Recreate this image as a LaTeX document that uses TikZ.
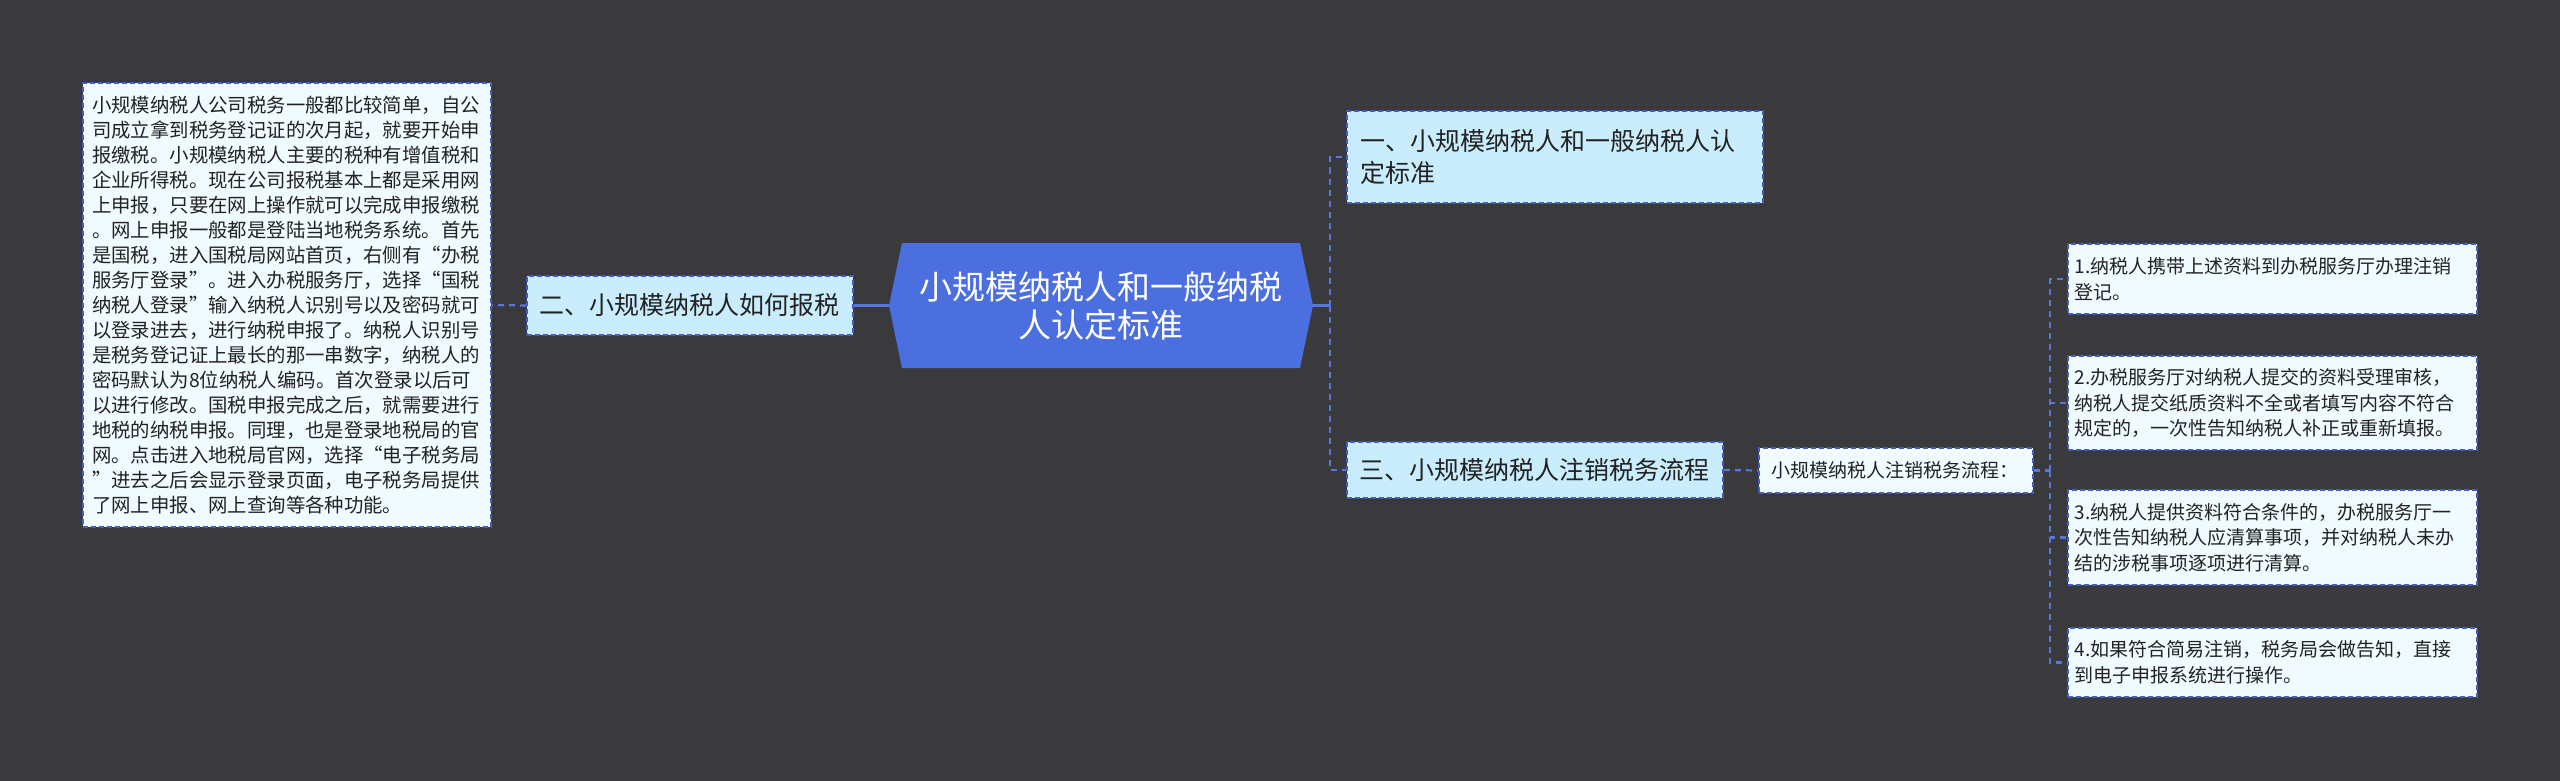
\documentclass[tikz,border=0pt]{standalone}
\usepackage{fontspec}
\setmainfont{Noto Sans CJK SC}
\definecolor{bgc}{RGB}{58,57,60}
\definecolor{mainblue}{RGB}{76,111,224}
\definecolor{linec}{RGB}{88,118,222}
\definecolor{borderc}{RGB}{66,92,196}
\definecolor{lvone}{RGB}{201,237,252}
\definecolor{leaf}{RGB}{240,251,255}
\definecolor{txt}{RGB}{34,34,34}
\tikzset{
  boxbase/.style={draw=borderc, line width=1.6pt, dash pattern=on 5pt off 3pt, text=txt, align=left, inner ysep=0pt},
  lvbox/.style={boxbase, fill=lvone, font=\fontsize{25}{32}\selectfont},
  leafbox/.style={boxbase, fill=leaf, font=\fontsize{19}{25.5}\selectfont},
  conn/.style={draw=linec, line width=2.2pt, dash pattern=on 6pt off 5pt},
  solidconn/.style={draw=linec, line width=3pt},
}
\begin{document}
\begin{tikzpicture}[x=1pt,y=-1pt]
\fill[bgc] (0,0) rectangle (2560,781);
\useasboundingbox (0,0) rectangle (2560,781);
% central hexagon
\fill[mainblue] (902,243) -- (1300,243) -- (1313,305.5) -- (1300,368) -- (902,368) -- (889,305.5) -- cycle;
\node[minimum width=424pt, minimum height=125pt, inner sep=0pt, text=white, align=center,
      font=\fontsize{33}{38}\selectfont] (C) at (1101,305.5) {小规模纳税人和一般纳税\\人认定标准};
% left text
\node[leafbox, minimum width=408pt, minimum height=444pt, text width=390pt, inner xsep=9pt,
      font=\fontsize{19.4}{25}\selectfont] (L) at (287,305) {小规模纳税人公司税务一般都比较简单，自公\\司成立拿到税务登记证的次月起，就要开始申\\报缴税。小规模纳税人主要的税种有增值税和\\企业所得税。现在公司报税基本上都是采用网\\上申报，只要在网上操作就可以完成申报缴税\\。网上申报一般都是登陆当地税务系统。首先\\是国税，进入国税局网站首页，右侧有“办税\\服务厅登录”。进入办税服务厅，选择“国税\\纳税人登录”输入纳税人识别号以及密码就可\\以登录进去，进行纳税申报了。纳税人识别号\\是税务登记证上最长的那一串数字，纳税人的\\密码默认为8位纳税人编码。首次登录以后可\\以进行修改。国税申报完成之后，就需要进行\\地税的纳税申报。同理，也是登录地税局的官\\网。点击进入地税局官网，选择“电子税务局\\”进去之后会显示登录页面，电子税务局提供\\了网上申报、网上查询等各种功能。};
% level one
\node[lvbox, minimum width=326pt, minimum height=59pt, text width=302pt, inner xsep=12pt] (E) at (690,305.5) {二、小规模纳税人如何报税};
\node[lvbox, minimum width=416pt, minimum height=92pt, text width=390pt, inner xsep=13pt] (Y) at (1555,157) {一、小规模纳税人和一般纳税人认\\定标准};
\node[lvbox, minimum width=376pt, minimum height=56pt, text width=352pt, inner xsep=12pt] (S) at (1535,470) {三、小规模纳税人注销税务流程};
% level two
\node[leafbox, minimum width=274pt, minimum height=45pt, text width=250pt, inner xsep=12pt] (P) at (1896,470.5) {小规模纳税人注销税务流程：};
\node[leafbox, minimum width=409pt, minimum height=70pt, text width=396pt, inner xsep=6.5pt] (B1) at (2272.5,279) {1.纳税人携带上述资料到办税服务厅办理注销\\登记。};
\node[leafbox, minimum width=409pt, minimum height=94pt, text width=396pt, inner xsep=6.5pt] (B2) at (2272.5,403) {2.办税服务厅对纳税人提交的资料受理审核，\\纳税人提交纸质资料不全或者填写内容不符合\\规定的，一次性告知纳税人补正或重新填报。};
\node[leafbox, minimum width=409pt, minimum height=95pt, text width=396pt, inner xsep=6.5pt] (B3) at (2272.5,537.5) {3.纳税人提供资料符合条件的，办税服务厅一\\次性告知纳税人应清算事项，并对纳税人未办\\结的涉税事项逐项进行清算。};
\node[leafbox, minimum width=409pt, minimum height=69pt, text width=396pt, inner xsep=6.5pt] (B4) at (2272.5,662.5) {4.如果符合简易注销，税务局会做告知，直接\\到电子申报系统进行操作。};
% connectors
\coordinate (RS) at (1330,305.5);
\coordinate (PS) at (2050,470.5);
\draw[solidconn] (C.west) -- (E.east);
\draw[conn] (E.west) -- (L.east);
\draw[solidconn] (C.east) -- (RS);
\draw[conn] (RS) |- (Y.west);
\draw[conn] (RS) |- (S.west);
\draw[conn] (S.east) -- (P.west);
\draw[conn] (P.east) -- (PS);
\draw[conn] (PS) |- (B1.west);
\draw[conn] (PS) |- (B2.west);
\draw[conn] (PS) |- (B3.west);
\draw[conn] (PS) |- (B4.west);
\end{tikzpicture}
\end{document}
